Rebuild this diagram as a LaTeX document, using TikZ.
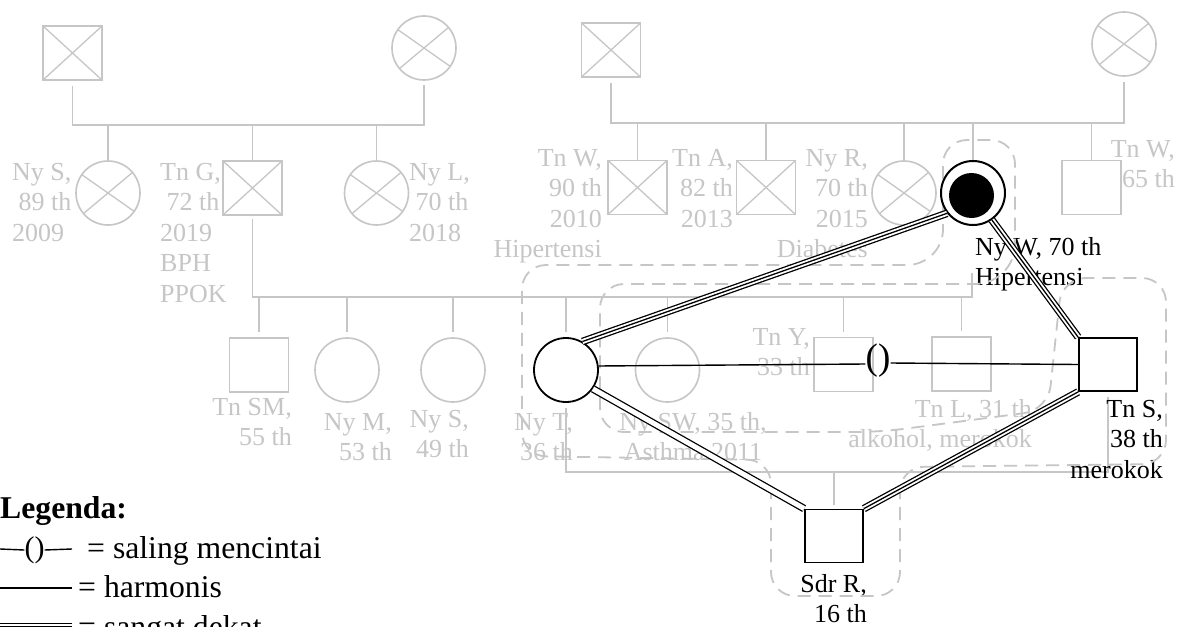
\documentclass[tikz,border=0pt]{standalone}
\usepackage{fontspec}
\setmainfont{Liberation Serif}
\usetikzlibrary{calc}
\definecolor{gr}{RGB}{198,198,198}
\newcommand{\gfont}{\fontsize{26}{30.5}\selectfont}
\newcommand{\lgfont}{\fontsize{31.7}{39}\selectfont}
\newcommand{\stt}{\rule{0pt}{18.5pt}}
\pgfdeclarelayer{bg}
\pgfsetlayers{bg,main}
\begin{document}
\begin{tikzpicture}[x=1pt,y=-1pt,
  gsq/.style={draw=gr, line width=1.6pt, rectangle, minimum width=59pt, minimum height=54pt, inner sep=0pt},
  gci/.style={draw=gr, line width=1.6pt, circle, minimum size=64pt, inner sep=0pt},
  xsq/.style={gsq, path picture={\draw[gr,line width=1.3pt] (path picture bounding box.north west) -- (path picture bounding box.south east) (path picture bounding box.south west) -- (path picture bounding box.north east);}},
  xci/.style={gci, path picture={\draw[gr,line width=1.3pt] ([shift={(145:32pt)}]path picture bounding box.center) -- ([shift={(325:32pt)}]path picture bounding box.center) ([shift={(220:32pt)}]path picture bounding box.center) -- ([shift={(40:32pt)}]path picture bounding box.center);}},
  bsq/.style={draw=black, line width=1.8pt, fill=white, rectangle, minimum width=58pt, minimum height=53pt, inner sep=0pt},
  bci/.style={draw=black, line width=1.8pt, fill=white, circle, minimum size=64pt, inner sep=0pt},
  gline/.style={draw=gr, line width=1.6pt},
  gl/.style={font=\gfont, text=gr, inner sep=0pt},
  bl/.style={font=\gfont, text=black, inner sep=0pt},
  rel/.style={draw=black, line width=1.4pt},
  triple/.style={draw=black, line width=1.3pt, preaction={draw=black, line width=7.6pt}, preaction={draw=white, line width=5.0pt}},
  dbl/.style={draw=black, line width=1.3pt, double=white, double distance=5pt},
  house/.style={draw=gr, line width=1.8pt, dash pattern=on 13pt off 8pt, rounded corners=24pt},
  lg/.style={font=\lgfont, anchor=base west, inner sep=0pt}
]
\useasboundingbox (0,0) rectangle (1185,626);

% ---------- nodes ----------
% grandparents (left)
\node[xsq] (gf1) at (72.5,53) {};
\node[xci] (gm1) at (424,48) {};
% their children
\node[xci] (nyS1) at (108,193) {};
\node[xsq] (tnG) at (252.5,188) {};
\node[xci] (nyL) at (376.5,193) {};
% grandparents (right)
\node[xsq] (gf2) at (611,50) {};
\node[xci] (gm2) at (1124,44) {};
% their children
\node[xsq] (tnW1) at (637.5,187.5) {};
\node[xsq] (tnA) at (766,187.5) {};
\node[xci] (nyR) at (904,193) {};
\node[bci, line width=2pt] (nyW) at (973,193) {};
\node[circle, fill=black, minimum size=45pt, inner sep=0pt] (nyWin) at (971.5,195.5) {};
\node[gsq] (tnW2) at (1091.5,187.5) {};
% middle generation
\node[gsq] (tnSM) at (259,365) {};
\node[gci] (nyM) at (347,370) {};
\node[gci] (nyS2) at (453,370) {};
\node[bci] (nyT) at (566,370) {};
\node[gci] (nySW) at (667.5,370) {};
\node[gsq] (tnY) at (843.5,364.5) {};
\node[gsq] (tnL) at (961.5,364) {};
\node[bsq] (tnS) at (1108,364.5) {};
% youngest
\node[bsq] (sdrR) at (834,536) {};

\coordinate (s1) at (0,125);
\coordinate (s2) at (0,123);
\coordinate (s3) at (0,297);
\coordinate (s4) at (0,472);
\coordinate (nyWdrop) at (972,273);

\begin{pgfonlayer}{bg}
\fill[white] (0,0) rectangle (1185,626);
% ---------- gray lines ----------
\draw[gline, shorten <=5pt, shorten >=4pt] (gf1.south) -- (gf1.south |- s1) -- (gm1.south |- s1) -- (gm1.south);
\foreach \n in {nyS1,tnG,nyL} \draw[gline] (\n.north) -- (\n.north |- s1);
\draw[gline, shorten <=5pt, shorten >=5pt] (gf2.south) -- (gf2.south |- s2) -- (gm2.south |- s2) -- (gm2.south);
\foreach \n in {tnW1,tnA,nyR,nyW,tnW2} \draw[gline] (\n.north) -- (\n.north |- s2);
\draw[gline, shorten <=3pt] (tnG.south) -- (tnG.south |- s3) -- (nyWdrop |- s3) -- (nyWdrop);
\foreach \n in {tnSM,nyM,nyS2,nyT,nySW,tnY,tnL} \draw[gline, shorten <=5pt] (\n.north) -- (\n.north |- s3);
\draw[gline, shorten <=5pt, shorten >=5pt] (nyT.south) -- (nyT.south |- s4) -- (tnS.south |- s4) -- (tnS.south);
\draw[gline, shorten <=4pt] (sdrR.north) -- (sdrR.north |- s4);

% ---------- labels ----------
\node[gl, anchor=north west, align=left] (lNyS1) at (12,161.5) {\stt Ny S,\\\hspace*{6.5pt}89 th\\2009};
\node[gl, anchor=north west, align=left] (lTnG) at (160,161.5) {\stt Tn G,\\\hspace*{6.5pt}72 th\\2019\\BPH\\PPOK};
\node[gl, anchor=north west, align=left] (lNyL) at (409,161.5) {\stt Ny L,\\\hspace*{6.5pt}70 th\\2018};
\node[gl, anchor=north east, align=right] (lTnW1) at (602,147.5) {\stt Tn W,\\90 th\\2010\\Hipertensi};
\node[gl, anchor=north east, align=right] (lTnA) at (733,147.5) {\stt Tn A,\\82 th\\2013};
\node[gl, anchor=north east, align=right] (lNyR) at (868,147.5) {\stt Ny R,\\70 th\\2015\\Diabetes};
\node[gl, anchor=north east, align=right] (lTnW2) at (1175,138.5) {\stt Tn W,\\65 th};
\node[bl, anchor=north west, align=left] (lNyW) at (975,236.5) {\stt Ny W, 70 th\\Hipertensi};
\node[gl, anchor=north east, align=right] (lTnSM) at (292,396.5) {\stt Tn SM,\\55 th};
\node[gl, anchor=north east, align=right] (lNyM) at (392,411.5) {\stt Ny M,\\53 th};
\node[gl, anchor=north east, align=right] (lNyS2) at (469,408.5) {\stt Ny S,\\49 th};
\node[gl, anchor=north east, align=right] (lNyT) at (573,411.5) {\stt Ny T,\\36 th};
\node[gl, anchor=north, align=center] (lNySW) at (693,411.5) {\stt Ny SW, 35 th,\\Asthma 2011};
\node[gl, anchor=north east, align=right] (lTnY) at (810,326.5) {\stt Tn Y,\\33 th};
\node[gl, anchor=north east, align=right] (lTnL) at (1032,398.5) {\stt Tn L, 31 th\\alkohol, merokok};
\node[bl, anchor=north east, align=right] (lTnS) at (1163,398.5) {\stt Tn S,\\38 th\\merokok};
\node[bl, anchor=north east, align=right] (lSdrR) at (867,573.5) {\stt Sdr R,\\16 th};

% ---------- household boundary ----------
\draw[house] (943,200) -- (943,140) -- (1015,140) [rounded corners=40pt] -- (1015,284) [rounded corners=24pt] -- (600,284) -- (600,432)
  -- (880,432) -- (1048,410) -- (1062,278) -- (1166,278) -- (1166,464) -- (900,467)
  -- (900,596) -- (771,596) -- (771,460) -- (522,456) -- (522,265) [rounded corners=36pt] -- (943,265) [rounded corners=24pt] -- (943,200);
\end{pgfonlayer}

% ---------- relationships ----------
\node[inner sep=0pt, font=\fontsize{37}{37}\selectfont] (par) at (878,361) {()};
\draw[rel] (nyT.7) -- ($(par.west)+(0,3)$);
\draw[rel] ($(par.east)+(0,2)$) -- (tnS.west);
\draw[triple] (nyT.60) -- (nyW.218);
\draw[triple] (nyW.-55) -- (tnS.north west);
\draw[triple] (tnS.south west) -- (sdrR.north east);
\draw[dbl] (nyT.-35) -- (sdrR.north west);

% ---------- legend ----------
\node[font=\lgfont\bfseries, anchor=base west, inner sep=0pt] (lgT) at (0,518) {Legenda:};
\coordinate (lg1a) at (0,549);
\coordinate (lg1b) at (72,549);
\node[inner sep=0pt, font=\fontsize{30}{30}\selectfont] (lgp) at (34.5,550) {()};
\draw[rel] (lg1a) -- (lgp.west);
\draw[rel] (lgp.east) -- (lg1b);
\node[lg] (lg1) at (87,558) {= saling mencintai};
\coordinate (lg2a) at (0,588);
\coordinate (lg2b) at (72,588);
\draw[rel] (lg2a) -- (lg2b);
\node[lg] (lg2) at (78,597) {= harmonis};
\coordinate (lg3a) at (0,626.5);
\coordinate (lg3b) at (72,626.5);
\draw[triple] (lg3a) -- (lg3b);
\node[lg] (lg3) at (78,637) {= sangat dekat};
\end{tikzpicture}
\end{document}
